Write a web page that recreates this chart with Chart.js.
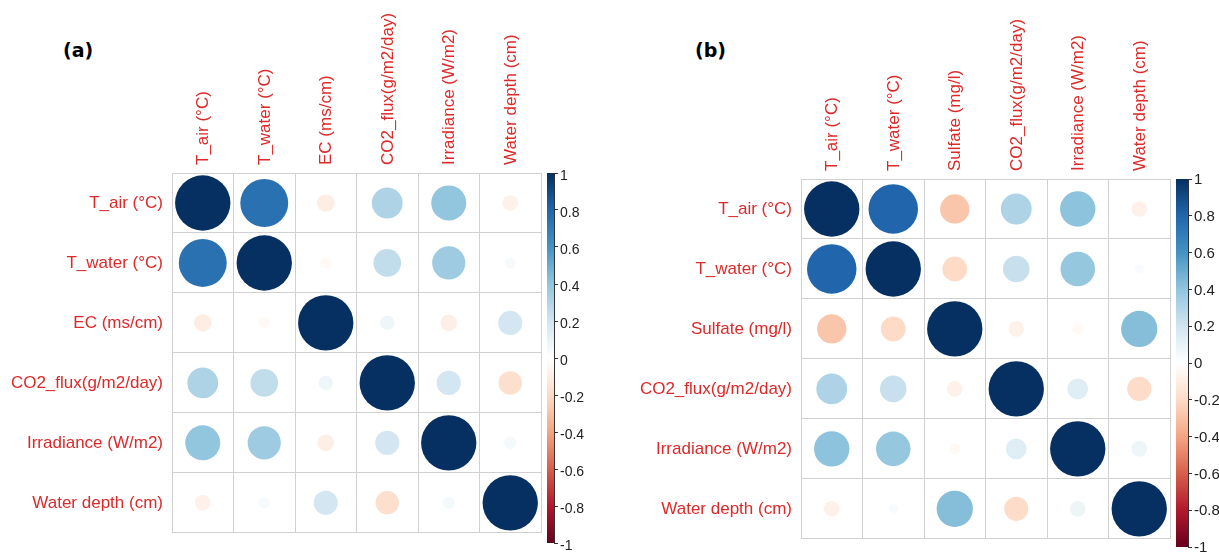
<!DOCTYPE html>
<html>
<head>
<meta charset="utf-8">
<script src="https://cdn.jsdelivr.net/npm/chart.js@4.4.1/dist/chart.umd.min.js"></script>
<style>
  body { margin: 0; background: #fff; width: 1219px; height: 558px; position: relative; overflow: hidden; }
  .box { position: absolute; }
  .tag { position: absolute; font: bold 19px "DejaVu Sans", sans-serif; line-height: 19px; color: #000; }
</style>
</head>
<body>
<div class="tag" style="left:63px; top:41px">(a)</div>
<div class="tag" style="left:695px; top:41px">(b)</div>
<div class="box" style="left:0; top:0; width:545px; height:552px"><canvas id="corrA"></canvas></div>
<div class="box" style="left:535px; top:160px; width:65px; height:398px"><canvas id="barA"></canvas></div>
<div class="box" style="left:600px; top:0; width:575px; height:558px"><canvas id="corrB"></canvas></div>
<div class="box" style="left:1160px; top:165px; width:59px; height:393px"><canvas id="barB"></canvas></div>
<script>
const varsA = ['T_air (°C)', 'T_water (°C)', 'EC (ms/cm)', 'CO2_flux(g/m2/day)', 'Irradiance (W/m2)', 'Water depth (cm)'];
const varsB = ['T_air (°C)', 'T_water (°C)', 'Sulfate (mg/l)', 'CO2_flux(g/m2/day)', 'Irradiance (W/m2)', 'Water depth (cm)'];

const corrA = [
    [1.00, 0.75, -0.10, 0.31, 0.40, -0.08],
    [0.75, 1.00, -0.04, 0.25, 0.36, 0.04],
    [-0.10, -0.04, 1.00, 0.07, -0.09, 0.19],
    [0.31, 0.25, 0.07, 1.00, 0.19, -0.18],
    [0.40, 0.36, -0.09, 0.19, 1.00, 0.05],
    [-0.08, 0.04, 0.19, -0.18, 0.05, 1.00]
];
const corrB = [
    [1.00, 0.80, -0.28, 0.31, 0.41, -0.08],
    [0.80, 1.00, -0.20, 0.23, 0.39, 0.03],
    [-0.28, -0.20, 1.00, -0.08, -0.04, 0.43],
    [0.31, 0.23, -0.08, 1.00, 0.14, -0.19],
    [0.41, 0.39, -0.04, 0.14, 1.00, 0.08],
    [-0.08, 0.03, 0.43, -0.19, 0.08, 1.00]
];

const barTicks = [-1, -0.8, -0.6, -0.4, -0.2, 0, 0.2, 0.4, 0.6, 0.8, 1];
const rdbu = ['#67001F', '#B2182B', '#D6604D', '#F4A582', '#FDDBC7', '#FFFFFF', '#D1E5F0', '#92C5DE', '#4393C3', '#2166AC', '#053061'];

const labelRed = '#dc2a2a';
const labelFont = { family: '"Liberation Sans", Arial, sans-serif', size: 17 };
const gridGrey = '#d0d0d0';

function hexRgb(h) {
    return [1, 3, 5].map(i => parseInt(h.substr(i, 2), 16));
}

function colorFor(v) {
    const t = (v + 1) / 2 * (rdbu.length - 1);
    const i = Math.min(Math.floor(t), rdbu.length - 2);
    const f = t - i;
    const a = hexRgb(rdbu[i]), b = hexRgb(rdbu[i + 1]);
    const c = a.map((x, k) => Math.round(x + (b[k] - x) * f));
    return `rgb(${c[0]},${c[1]},${c[2]})`;
}

function makeMatrix(id, vars, corr, leftW, topH, padding) {
    const points = [];
    corr.forEach((row, i) => row.forEach((v, j) => points.push({ x: vars[j], y: vars[i], v })));
    return new Chart(document.getElementById(id), {
        type: 'scatter',
        data: { datasets: [{
            data: points,
            clip: false,
            pointBorderWidth: 0,
            pointBackgroundColor: c => c.raw ? colorFor(c.raw.v) : '#fff',
            pointRadius: c => {
                const w = c.chart.scales.x && c.chart.scales.x.width;
                if (!c.raw || !w) return 0;
                // circle area follows |r|, nearly filling the cell at |r| = 1
                return 0.45 * (w / vars.length) * Math.sqrt(Math.abs(c.raw.v));
            }
        }] },
        options: {
            responsive: true, maintainAspectRatio: false, animation: false, events: [],
            layout: { autoPadding: false, padding },
            plugins: { legend: { display: false }, tooltip: { enabled: false } },
            scales: {
                x: {
                    type: 'category', labels: vars, position: 'top', offset: true,
                    grid: { offset: true, color: gridGrey, drawTicks: false },
                    border: { color: gridGrey },
                    ticks: { color: labelRed, font: labelFont, minRotation: 90, maxRotation: 90,
                             autoSkip: false, padding: 8, labelOffset: 21 },
                    afterFit: s => { s.height = topH; }
                },
                y: {
                    type: 'category', labels: vars, offset: true,
                    grid: { offset: true, color: gridGrey, drawTicks: false },
                    border: { color: gridGrey },
                    ticks: { color: labelRed, font: labelFont, autoSkip: false, padding: 9 },
                    afterFit: s => { s.width = leftW; }
                }
            }
        }
    });
}

function makeColorbar(id, padding, axisW, fontSize, shift) {
    return new Chart(document.getElementById(id), {
        type: 'bar',
        data: { labels: [''], datasets: [{
            data: [[-1, 1]],
            barPercentage: 1, categoryPercentage: 1, borderWidth: 0,
            backgroundColor: c => {
                const y = c.chart.scales.y;
                const y0 = y ? y.getPixelForValue(-1) : NaN, y1 = y ? y.getPixelForValue(1) : NaN;
                if (!isFinite(y0) || !isFinite(y1)) return '#fff';
                const g = c.chart.ctx.createLinearGradient(0, y0, 0, y1);
                rdbu.forEach((col, k) => g.addColorStop(k / (rdbu.length - 1), col));
                return g;
            }
        }] },
        options: {
            responsive: true, maintainAspectRatio: false, animation: false, events: [],
            layout: { padding },
            plugins: { legend: { display: false }, tooltip: { enabled: false } },
            scales: {
                x: { display: false },
                y: {
                    position: 'right', min: -1, max: 1,
                    afterBuildTicks: s => { s.ticks = barTicks.map(value => ({ value })); },
                    grid: { drawOnChartArea: false, tickLength: 4, color: '#333' },
                    border: { color: '#333' },
                    ticks: { callback: v => String(v), color: '#222', padding: 2, labelOffset: shift,
                             font: { family: '"Liberation Sans", Arial, sans-serif', size: fontSize } },
                    afterFit: s => { s.width = axisW; }
                }
            }
        }
    });
}

makeMatrix('corrA', varsA, corrA, 172, 173, { right: 4, bottom: 10 });
makeMatrix('corrB', varsB, corrB, 201, 179, { right: 5, bottom: 10 });
makeColorbar('barA', { left: 12, top: 13, bottom: 15 }, 46, 14, 3);
makeColorbar('barB', { left: 16, top: 14, bottom: 10 }, 31, 15, 1);
</script>
</body>
</html>
